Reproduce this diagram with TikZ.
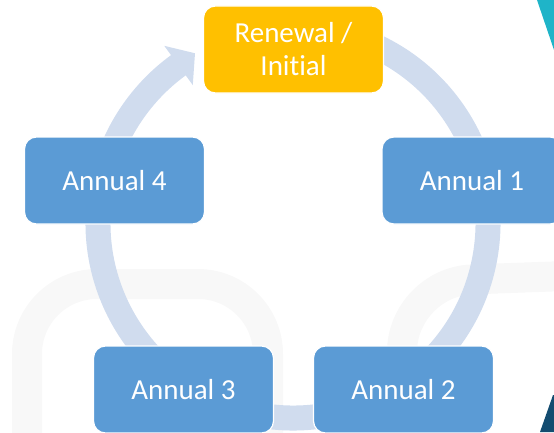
\documentclass[tikz,border=0pt]{standalone}
\usepackage{fontspec}
\setmainfont{Carlito}[Ligatures={NoCommon}]
\definecolor{boxblue}{HTML}{5B9BD5}
\definecolor{boxgold}{HTML}{FFC000}
\definecolor{ringblue}{HTML}{D0DCEE}
\definecolor{tealA}{HTML}{1FB4C8}
\definecolor{navyA}{HTML}{134C70}
\definecolor{wmgray}{HTML}{F8F8F8}
\begin{document}
\begin{tikzpicture}[x=1bp,y=1bp,
  cyclebox/.style={rectangle, rounded corners=12bp, minimum width=180bp,
    minimum height=87bp, draw=white, line width=1.2bp, fill=boxblue,
    text=white, font=\fontsize{29bp}{33bp}\selectfont, align=center, inner sep=0pt},
  ring/.style={draw=ringblue, line width=25bp},
  watermark/.style={draw=wmgray, line width=30bp, rounded corners=70bp}]
\useasboundingbox (0,0) rectangle (554,432);
\begin{scope}
\clip (0,0) rectangle (554,432);
% faint background watermark
\draw[watermark] (27,-30) -- (27,148) -- (268,148) -- (268,-30);
\draw[watermark] (402,-30) -- (402,150) -- (620,158);
% corner decorations
\fill[tealA] (537,432) -- (554,432) -- (554,382) -- cycle;
\fill[navyA] (553,37) -- (554,37) -- (554,0) -- (540,0) -- cycle;
% continuous ring
\coordinate (c) at (293,209);
\draw[ring] ([shift={(80:195)}]c) arc[start angle=80, end angle=-234.5, radius=195];
\fill[ringblue] ([shift={(126:170.5)}]c) -- ([shift={(120:196)}]c)
  -- ([shift={(126:219)}]c) -- cycle;
% nodes
\node[cyclebox, fill=boxgold] (renewal) at (293.5,382.5) {Renewal /\\Initial};
\node[cyclebox] (a1) at (472,251.5) {Annual 1};
\node[cyclebox] (a4) at (114.5,251.5) {Annual 4};
\node[cyclebox] (a3) at (183.5,42.5) {Annual 3};
\node[cyclebox] (a2) at (403.5,42.5) {Annual 2};
\end{scope}
\end{tikzpicture}
\end{document}
